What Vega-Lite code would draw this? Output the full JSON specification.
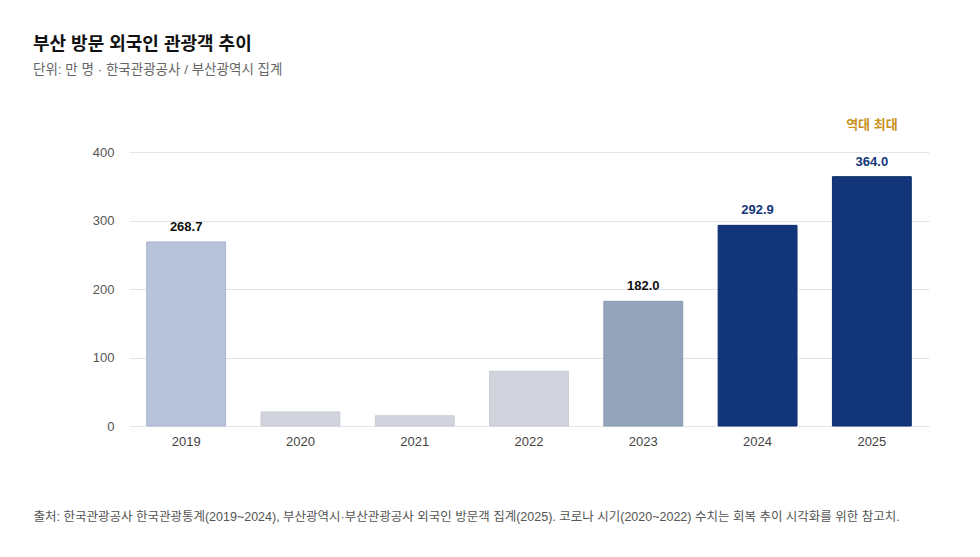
{
  "$schema": "https://vega.github.io/schema/vega-lite/v6.json",
  "autosize": "none",
  "width": 802,
  "height": 274,
  "padding": {"left": 123, "top": 152, "right": 55, "bottom": 131},
  "background": "#ffffff",
  "title": {
    "text": "부산 방문 외국인 관광객 추이",
    "subtitle": "단위: 만 명 · 한국관광공사 / 부산광역시 집계",
    "anchor": "start",
    "frame": "group",
    "dx": -90,
    "offset": 42,
    "font": "Liberation Sans, Noto Sans CJK KR",
    "fontSize": 18,
    "fontWeight": "bold",
    "color": "#111111",
    "subtitleFont": "Liberation Sans, Noto Sans CJK KR",
    "subtitleFontSize": 13.5,
    "subtitleColor": "#666666",
    "subtitlePadding": 9
  },
  "data": {
    "values": [
      {"year": "2019", "visitors": 268.7, "phase": "pre", "note": ""},
      {"year": "2020", "visitors": 20.5, "phase": "covid", "note": ""},
      {"year": "2021", "visitors": 15, "phase": "covid", "note": ""},
      {"year": "2022", "visitors": 80, "phase": "covid", "note": ""},
      {"year": "2023", "visitors": 182.0, "phase": "recovery", "note": ""},
      {"year": "2024", "visitors": 292.9, "phase": "record", "note": ""},
      {"year": "2025", "visitors": 364.0, "phase": "record", "note": "역대 최대"}
    ]
  },
  "encoding": {
    "x": {
      "field": "year",
      "type": "ordinal",
      "scale": {"range": [6, 806], "paddingInner": 0.31, "paddingOuter": 0.155},
      "axis": {
        "title": "출처: 한국관광공사 한국관광통계(2019~2024), 부산광역시·부산관광공사 외국인 방문객 집계(2025). 코로나 시기(2020~2022) 수치는 회복 추이 시각화를 위한 참고치.",
        "titleX": -90,
        "titleY": 90,
        "titleAlign": "left",
        "titleAnchor": "start",
        "titleBaseline": "middle",
        "titleFont": "Liberation Sans, Noto Sans CJK KR",
        "titleFontSize": 12.5,
        "titleFontWeight": "normal",
        "titleColor": "#555555",
        "labelAngle": 0,
        "labelFont": "Liberation Sans, Noto Sans CJK KR",
        "labelFontSize": 13,
        "labelColor": "#444444",
        "labelPadding": 9,
        "ticks": false,
        "domain": false
      }
    },
    "y": {
      "field": "visitors",
      "type": "quantitative",
      "scale": {"domain": [0, 400], "nice": false},
      "axis": {
        "title": null,
        "values": [0, 100, 200, 300, 400],
        "labelFont": "Liberation Sans, Noto Sans CJK KR",
        "labelFontSize": 13,
        "labelColor": "#555555",
        "labelPadding": 9,
        "ticks": false,
        "domain": false,
        "gridColor": "#e3e5ea"
      }
    }
  },
  "layer": [
    {
      "mark": {"type": "bar", "strokeWidth": 1},
      "encoding": {
        "color": {
          "field": "phase",
          "type": "nominal",
          "scale": {"domain": ["pre", "covid", "recovery", "record"], "range": ["#b8c2da", "#d1d4dc", "#95a4b9", "#13367a"]},
          "legend": null
        },
        "stroke": {
          "field": "phase",
          "type": "nominal",
          "scale": {"domain": ["pre", "covid", "recovery", "record"], "range": ["#aab5d0", "#c9ccd5", "#8a99b0", "#0d2c68"]},
          "legend": null
        }
      }
    },
    {
      "transform": [{"filter": "datum.phase != 'covid'"}],
      "mark": {"type": "text", "baseline": "bottom", "dy": -8, "font": "Liberation Sans, Noto Sans CJK KR", "fontSize": 13, "fontWeight": "bold"},
      "encoding": {
        "text": {"field": "visitors", "type": "quantitative", "format": ".1f"},
        "color": {"condition": {"test": "datum.phase == 'record'", "value": "#13367a"}, "value": "#111111"}
      }
    },
    {
      "transform": [{"filter": "datum.note != ''"}],
      "mark": {"type": "text", "baseline": "bottom", "dy": -45, "font": "Liberation Sans, Noto Sans CJK KR", "fontSize": 13, "fontWeight": "bold", "color": "#c9921c"},
      "encoding": {
        "text": {"field": "note", "type": "nominal"}
      }
    }
  ],
  "config": {
    "view": {"stroke": null}
  }
}
